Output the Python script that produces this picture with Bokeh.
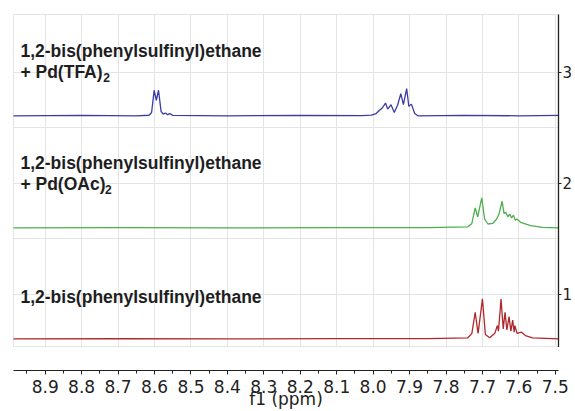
from bokeh.plotting import figure
from bokeh.models import Range1d, FixedTicker, Label, PrintfTickFormatter
from bokeh.layouts import column
from bokeh.embed import file_html
from bokeh.resources import INLINE

# ---------------- data ----------------
major_ticks = [8.9, 8.8, 8.7, 8.6, 8.5, 8.4, 8.3, 8.2, 8.1, 8.0, 7.9, 7.8, 7.7, 7.6, 7.5]
minor_ticks = [8.95, 8.85, 8.75, 8.65, 8.55, 8.45, 8.35, 8.25, 8.15, 8.05, 7.95, 7.85, 7.75, 7.65, 7.55]
right_ticks = [1, 2, 3]
grid_y = [1.0, 1.5, 2.0, 2.5, 3.0]
x_title = "f1 (ppm)"

name = "1,2-bis(phenylsulfinyl)ethane"
additives = ["+ Pd(TFA)", "+ Pd(OAc)", None]
subscript = "2"
offsets = [2.61, 1.60, 0.60]

# Pd(TFA)2 spectrum (ppm, intensity above its baseline)
tfa_ppm = [8.99, 8.80, 8.65, 8.615, 8.608, 8.601, 8.595, 8.589, 8.582, 8.576, 8.570, 8.564, 8.558, 8.550,
           8.40, 8.20, 8.03, 8.005, 7.992, 7.984, 7.975, 7.966, 7.960, 7.951, 7.942, 7.933, 7.924, 7.917,
           7.908, 7.902, 7.895, 7.886, 7.877, 7.75, 7.60, 7.49]
tfa_int = [0.0, 0.003, 0.0, 0.005, 0.03, 0.23, 0.14, 0.23, 0.04, 0.015, 0.025, 0.01, 0.02, 0.004,
           0.0, 0.003, 0.002, 0.006, 0.02, 0.045, 0.07, 0.115, 0.06, 0.10, 0.03, 0.095, 0.20, 0.10,
           0.245, 0.085, 0.105, 0.02, 0.0, 0.003, 0.0, 0.004]

# Pd(OAc)2 spectrum
oac_ppm = [8.99, 8.70, 8.40, 8.10, 7.85, 7.740, 7.729, 7.720, 7.713, 7.702, 7.694, 7.685, 7.672, 7.661,
           7.655, 7.646, 7.641, 7.636, 7.630, 7.625, 7.620, 7.615, 7.610, 7.606, 7.595, 7.568, 7.535, 7.49]
oac_int = [0.0, 0.002, 0.0, 0.003, 0.003, 0.01, 0.04, 0.18, 0.10, 0.27, 0.08, 0.035, 0.04, 0.08,
           0.12, 0.24, 0.13, 0.14, 0.10, 0.125, 0.09, 0.115, 0.07, 0.08, 0.05, 0.02, 0.005, 0.0]

# free ligand spectrum
lig_ppm = [8.99, 8.70, 8.40, 8.10, 7.85, 7.740, 7.729, 7.720, 7.712, 7.700, 7.692, 7.680, 7.666, 7.659,
           7.656, 7.649, 7.643, 7.638, 7.633, 7.627, 7.622, 7.617, 7.613, 7.611, 7.605, 7.593, 7.582,
           7.563, 7.49]
lig_int = [0.0, 0.003, 0.0, 0.002, 0.003, 0.01, 0.05, 0.24, 0.05, 0.36, 0.04, 0.01, 0.05, 0.12,
           0.07, 0.36, 0.09, 0.24, 0.08, 0.20, 0.07, 0.17, 0.06, 0.12, 0.05, 0.06, 0.03, 0.01, 0.0]

colors = ["#3b3ba6", "#4fae4f", "#b0282c"]

# ---------------- top figure ----------------
xr = Range1d(8.987, 7.4913)
p = figure(width=575, height=347, x_range=xr, y_range=Range1d(0.5225, 3.5225),
           output_backend="svg", toolbar_location=None,
           x_axis_location=None, y_axis_location="right",
           min_border_left=13, min_border_top=14, min_border_bottom=0, min_border_right=0)
p.outline_line_color = "#e4e4e4"
p.background_fill_color = "white"
p.border_fill_color = "white"

p.xgrid.ticker = FixedTicker(ticks=major_ticks)
p.ygrid.ticker = FixedTicker(ticks=grid_y)
p.xgrid.grid_line_color = "#e4e4e4"
p.ygrid.grid_line_color = "#e4e4e4"

ya = p.yaxis[0]
ya.ticker = FixedTicker(ticks=right_ticks, minor_ticks=[])
ya.axis_line_color = "#222222"
ya.axis_line_width = 1.3
ya.major_tick_line_color = "#222222"
ya.major_tick_out = 3
ya.major_tick_in = 0
ya.minor_tick_out = 0
ya.major_label_standoff = 1
ya.major_label_text_font = "DejaVu Sans"
ya.major_label_text_font_size = "15px"
ya.major_label_text_color = "#222222"

spectra = [(tfa_ppm, tfa_int), (oac_ppm, oac_int), (lig_ppm, lig_int)]
for (xs, ys), off, c in zip(spectra, offsets, colors):
    p.line(xs, [v + off for v in ys], line_color=c, line_width=1.3)

# label placement (data coordinates)
label_x = 8.968
name_y = [3.198, 2.189, 0.973]
add_y = [3.0, 1.991]
sub_x = [8.741, 8.736]
font_kw = dict(text_font="Liberation Sans", text_font_style="bold",
               text_color="#1e1e1e", text_baseline="middle")
for i in range(3):
    p.add_layout(Label(x=label_x, y=name_y[i], text=name, text_font_size="17.5px", **font_kw))
    if additives[i]:
        p.add_layout(Label(x=label_x, y=add_y[i], text=additives[i], text_font_size="17.5px", **font_kw))
        p.add_layout(Label(x=sub_x[i], y=add_y[i] - 0.045, text=subscript, text_font_size="12px", **font_kw))

# ---------------- bottom axis figure ----------------
b = figure(width=575, height=64, x_range=xr, y_range=Range1d(0, 1),
           output_backend="svg", toolbar_location=None,
           x_axis_location="below", y_axis_location=None,
           min_border_left=13, min_border_right=14, min_border_top=0, min_border_bottom=0)
b.outline_line_color = None
b.xgrid.visible = False
b.ygrid.visible = False
xa = b.xaxis[0]
xa.ticker = FixedTicker(ticks=major_ticks, minor_ticks=minor_ticks)
xa.formatter = PrintfTickFormatter(format="%.1f")
xa.axis_line_color = "#222222"
xa.major_tick_line_color = "#222222"
xa.minor_tick_line_color = "#222222"
xa.major_tick_out = 4
xa.major_tick_in = 0
xa.minor_tick_out = 3
xa.minor_tick_in = 0
xa.major_label_standoff = 5
xa.major_label_text_font = "DejaVu Sans"
xa.major_label_text_font_size = "17px"
xa.major_label_text_color = "#222222"
xa.axis_label = x_title
xa.axis_label_text_font = "DejaVu Sans"
xa.axis_label_text_font_size = "17px"
xa.axis_label_text_font_style = "normal"
xa.axis_label_text_color = "#222222"
xa.axis_label_standoff = -7

layout = column(p, b, spacing=0)
open("out.html", "w").write(file_html(layout, INLINE))
